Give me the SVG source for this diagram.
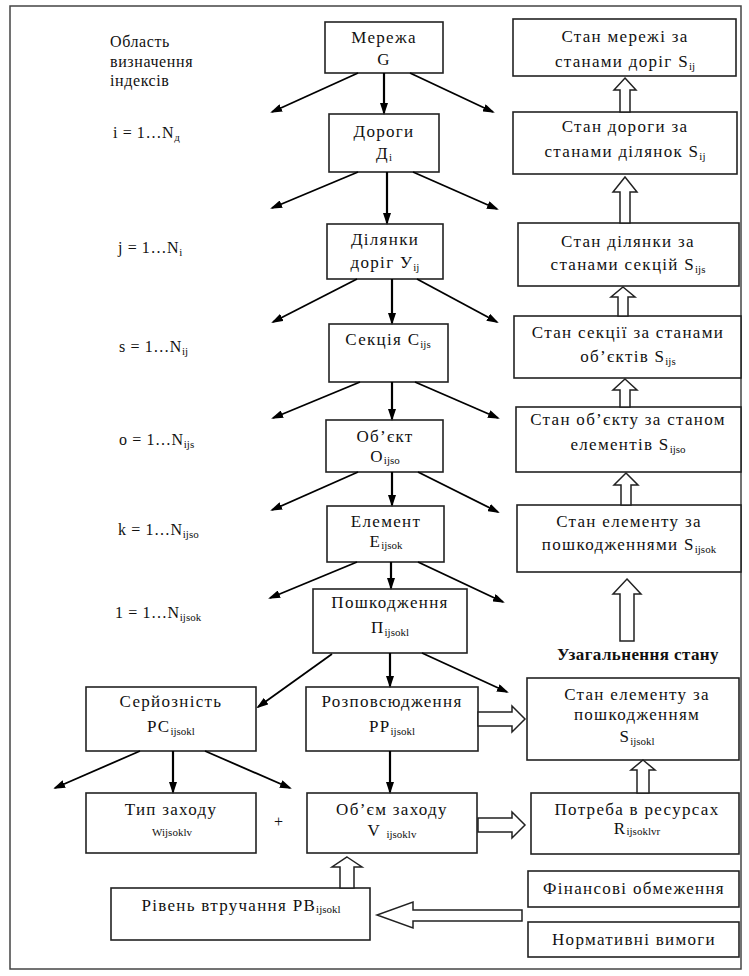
<svg xmlns="http://www.w3.org/2000/svg" width="749" height="976" viewBox="0 0 749 976">
<style>
  .bx{fill:#fff;stroke:#222;stroke-width:1.6}
  .t{font-family:"Liberation Serif","Times New Roman",serif;font-size:17px;fill:#111;letter-spacing:1.3px;text-anchor:middle}
  .l{font-family:"Liberation Serif","Times New Roman",serif;font-size:16px;fill:#111;letter-spacing:0.6px}
  .s{font-size:11px;letter-spacing:0}
  .b{font-weight:bold;letter-spacing:0.4px}
  .c{stroke:#000;stroke-width:2.2;fill:none;marker-end:url(#ah)}
  .d{stroke:#000;stroke-width:1.8;fill:none;marker-end:url(#ah)}
  .h{fill:#fff;stroke:#222;stroke-width:1.5}
</style>
<defs>
  <marker id="ah" viewBox="0 0 12 8" refX="10" refY="4" markerWidth="12" markerHeight="8" markerUnits="userSpaceOnUse" orient="auto">
    <path d="M0,0 L12,4 L0,8 z" fill="#000"/>
  </marker>
</defs>
<rect x="10" y="6" width="731" height="963" fill="#fff" stroke="#444" stroke-width="1.5"/>

<g id="labels">
  <text class="l" x="110" y="47">Область</text>
  <text class="l" x="110" y="67">визначення</text>
  <text class="l" x="110" y="86">індексів</text>
  <text class="l" x="113" y="138">i = 1…N<tspan class="s" dy="3">д</tspan></text>
  <text class="l" x="118" y="253">j = 1…N<tspan class="s" dy="3">i</tspan></text>
  <text class="l" x="119" y="352">s = 1…N<tspan class="s" dy="3">ij</tspan></text>
  <text class="l" x="119" y="445">o = 1…N<tspan class="s" dy="3">ijs</tspan></text>
  <text class="l" x="118" y="535">k = 1…N<tspan class="s" dy="3">ijso</tspan></text>
  <text class="l" x="115" y="618">1 = 1…N<tspan class="s" dy="3">ijsok</tspan></text>
  <text class="t b" x="638" y="660">Узагальнення стану</text>
  <text class="l" x="274" y="827">+</text>
</g>

<g id="n-G"><rect class="bx" x="325" y="22" width="118" height="51"/>
  <text class="t" x="384" y="43">Мережа</text><text class="t" x="384" y="65">G</text></g>
<g id="n-D"><rect class="bx" x="329" y="114" width="110" height="58"/>
  <text class="t" x="384" y="137">Дороги</text><text class="t" x="384" y="159">Д<tspan class="s" dy="2">i</tspan></text></g>
<g id="n-U"><rect class="bx" x="327" y="224" width="116" height="55"/>
  <text class="t" x="385" y="245">Ділянки</text><text class="t" x="385" y="268">доріг У<tspan class="s" dy="3">ij</tspan></text></g>
<g id="n-C"><rect class="bx" x="329" y="324" width="119" height="58"/>
  <text class="t" x="388" y="345">Секція C<tspan class="s" dy="3">ijs</tspan></text></g>
<g id="n-O"><rect class="bx" x="326" y="420" width="117" height="52"/>
  <text class="t" x="385" y="442">Об’єкт</text><text class="t" x="385" y="462">O<tspan class="s" dy="2">ijso</tspan></text></g>
<g id="n-E"><rect class="bx" x="327" y="506" width="117" height="56"/>
  <text class="t" x="386" y="527">Елемент</text><text class="t" x="386" y="547">E<tspan class="s" dy="2">ijsok</tspan></text></g>
<g id="n-P"><rect class="bx" x="313" y="589" width="154" height="64"/>
  <text class="t" x="390" y="608">Пошкодження</text><text class="t" x="390" y="633">П<tspan class="s" dy="3">ijsokl</tspan></text></g>
<g id="n-PC"><rect class="bx" x="86" y="687" width="170" height="64"/>
  <text class="t" x="171" y="707">Серйозність</text><text class="t" x="171" y="732">PC<tspan class="s" dy="3">ijsokl</tspan></text></g>
<g id="n-PP"><rect class="bx" x="306" y="687" width="172" height="64"/>
  <text class="t" x="392" y="707">Розповсюдження</text><text class="t" x="392" y="732">PP<tspan class="s" dy="3">ijsokl</tspan></text></g>
<g id="n-W"><rect class="bx" x="86" y="793" width="170" height="60"/>
  <text class="t" x="171" y="815">Тип заходу</text><text class="t s" x="172" y="836">Wijsoklv</text></g>
<g id="n-V"><rect class="bx" x="307" y="793" width="170" height="60"/>
  <text class="t" x="392" y="815">Об’єм заходу</text><text class="t" x="392" y="836">V <tspan class="s" dy="2">ijsoklv</tspan></text></g>
<g id="n-RV"><rect class="bx" x="111" y="888" width="259" height="52"/>
  <text class="t" x="241" y="911">Рівень втручання PB<tspan class="s" dy="2">ijsokl</tspan></text></g>

<g id="n-S1"><rect class="bx" x="513" y="19" width="223" height="57"/>
  <text class="t" x="625" y="42">Стан мережі за</text><text class="t" x="625" y="67">станами доріг S<tspan class="s" dy="3">ij</tspan></text></g>
<g id="n-S2"><rect class="bx" x="513" y="112" width="224" height="62"/>
  <text class="t" x="625" y="132">Стан дороги за</text><text class="t" x="625" y="157">станами ділянок S<tspan class="s" dy="3">ij</tspan></text></g>
<g id="n-S3"><rect class="bx" x="518" y="223" width="221" height="63"/>
  <text class="t" x="628" y="247">Стан ділянки за</text><text class="t" x="628" y="270">станами секцій S<tspan class="s" dy="3">ijs</tspan></text></g>
<g id="n-S4"><rect class="bx" x="514" y="316" width="227" height="62"/>
  <text class="t" x="628" y="338">Стан секції за станами</text><text class="t" x="628" y="362">об’єктів S<tspan class="s" dy="3">ijs</tspan></text></g>
<g id="n-S5"><rect class="bx" x="516" y="407" width="225" height="65"/>
  <text class="t" x="628" y="425">Стан об’єкту за станом</text><text class="t" x="628" y="450">елементів S<tspan class="s" dy="3">ijso</tspan></text></g>
<g id="n-S6"><rect class="bx" x="517" y="505" width="224" height="67"/>
  <text class="t" x="629" y="527">Стан елементу за</text><text class="t" x="629" y="550">пошкодженнями S<tspan class="s" dy="3">ijsok</tspan></text></g>
<g id="n-S7"><rect class="bx" x="527" y="678" width="212" height="82"/>
  <text class="t" x="637" y="700">Стан елементу за</text><text class="t" x="637" y="720">пошкодженням</text><text class="t" x="637" y="742">S<tspan class="s" dy="3">ijsokl</tspan></text></g>
<g id="n-R"><rect class="bx" x="531" y="793" width="208" height="61"/>
  <text class="t" x="637" y="815">Потреба в ресурсах</text><text class="t" x="637" y="834">R<tspan class="s" dy="1">ijsoklvr</tspan></text></g>
<g id="n-F"><rect class="bx" x="528" y="871" width="211" height="36"/>
  <text class="t" x="634" y="894">Фінансові обмеження</text></g>
<g id="n-N"><rect class="bx" x="528" y="922" width="211" height="35"/>
  <text class="t" x="634" y="945">Нормативні вимоги</text></g>

<g id="connectors">
  <line class="d" x1="358" y1="73" x2="272" y2="112"/>
  <line class="c" x1="384" y1="73" x2="384" y2="113"/>
  <line class="d" x1="410" y1="73" x2="493" y2="112"/>
  <line class="d" x1="358" y1="172" x2="272" y2="208"/>
  <line class="c" x1="387" y1="172" x2="387" y2="223"/>
  <line class="d" x1="413" y1="172" x2="497" y2="209"/>
  <line class="d" x1="357" y1="279" x2="273" y2="322"/>
  <line class="c" x1="392" y1="279" x2="392" y2="323"/>
  <line class="d" x1="417" y1="279" x2="497" y2="322"/>
  <line class="d" x1="360" y1="382" x2="273" y2="418"/>
  <line class="c" x1="392" y1="382" x2="392" y2="419"/>
  <line class="d" x1="415" y1="382" x2="498" y2="418"/>
  <line class="d" x1="358" y1="472" x2="272" y2="510"/>
  <line class="c" x1="392" y1="472" x2="392" y2="505"/>
  <line class="d" x1="418" y1="472" x2="498" y2="512"/>
  <line class="d" x1="357" y1="562" x2="270" y2="598"/>
  <line class="c" x1="391" y1="562" x2="391" y2="588"/>
  <line class="d" x1="418" y1="562" x2="503" y2="602"/>
  <line class="d" x1="332" y1="654" x2="258" y2="707"/>
  <line class="c" x1="390" y1="653" x2="390" y2="686"/>
  <line class="d" x1="422" y1="653" x2="507" y2="692"/>
  <line class="d" x1="140" y1="751" x2="55" y2="788"/>
  <line class="c" x1="173" y1="751" x2="173" y2="792"/>
  <line class="d" x1="205" y1="751" x2="290" y2="788"/>
  <line class="c" x1="390" y1="751" x2="390" y2="792"/>

  <polygon class="h" points="625,78 636,90 630,90 630,112 620,112 620,90 614,90"/>
  <polygon class="h" points="625,177 637,192 630,192 630,223 620,223 620,192 613,192"/>
  <polygon class="h" points="623,287 635,297 628,297 628,316 618,316 618,297 611,297"/>
  <polygon class="h" points="625,379 637,390 630,390 630,407 620,407 620,390 613,390"/>
  <polygon class="h" points="626,473 638,485 631,485 631,505 621,505 621,485 614,485"/>
  <polygon class="h" points="627,579 641,594 634,594 634,641 620,641 620,594 613,594"/>
  <polygon class="h" points="643,760 655,770 649,770 649,793 637,793 637,770 631,770"/>
  <polygon class="h" points="347,857 362,867 354,867 354,888 340,888 340,867 332,867"/>
  <polygon class="h" points="478,712 512,712 512,706 525,719 512,732 512,726 478,726"/>
  <polygon class="h" points="478,818 512,818 512,812 525,825 512,838 512,832 478,832"/>
  <polygon class="h" points="522,910 413,910 413,902 377,915 413,928 413,921 522,921"/>
</g>
</svg>
